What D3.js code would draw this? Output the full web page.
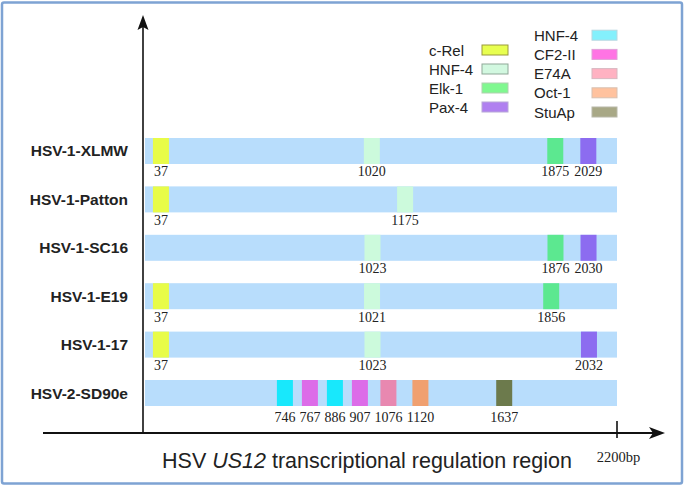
<!DOCTYPE html>
<html>
<head>
<meta charset="utf-8">
<script src="https://cdn.jsdelivr.net/npm/d3@7/dist/d3.min.js"></script>
<style>
  html, body { margin: 0; padding: 0; background: #fff; }
  svg { display: block; }
</style>
</head>
<body>
<svg id="chart" width="685" height="486"></svg>
<script>
// ---------------- data ----------------
const strains = ["HSV-1-XLMW", "HSV-1-Patton", "HSV-1-SC16", "HSV-1-E19", "HSV-1-17", "HSV-2-SD90e"];

const factorKeys   = ["cRel", "HNF4a", "Elk1", "Pax4", "HNF4b", "CF2II", "E74A", "Oct1", "StuAp"];
const factorLabels = ["c-Rel", "HNF-4", "Elk-1", "Pax-4", "HNF-4", "CF2-II", "E74A", "Oct-1", "StuAp"];

const xlmwSites    = [37, 1020, 1875, 2029];
const xlmwFactors  = ["cRel", "HNF4a", "Elk1", "Pax4"];
const pattonSites  = [37, 1175];
const pattonFactors = ["cRel", "HNF4a"];
const sc16Sites    = [1023, 1876, 2030];
const sc16Factors  = ["HNF4a", "Elk1", "Pax4"];
const e19Sites     = [37, 1021, 1856];
const e19Factors   = ["cRel", "HNF4a", "Elk1"];
const s17Sites     = [37, 1023, 2032];
const s17Factors   = ["cRel", "HNF4a", "Pax4"];
const sd90eSites   = [746, 767, 886, 907, 1076, 1120, 1637];
const sd90eFactors = ["HNF4b", "CF2II", "HNF4b", "CF2II", "E74A", "Oct1", "StuAp"];

const regionLength = 2200;
const axisLabel = "2200bp";

// ---------------- styles ----------------
const boxColor = {
  cRel: "#e8fc48", HNF4a: "#ccfadc", Elk1: "#5ce890", Pax4: "#8c6cf0",
  HNF4b: "#18e8fc", CF2II: "#dc6ce8", E74A: "#e888b0", Oct1: "#f0a070", StuAp: "#6c7a4c"
};
const legendColor = {
  cRel: "#e8ff50", HNF4a: "#d2f8e0", Elk1: "#80f890", Pax4: "#b080f0",
  HNF4b: "#84f0fc", CF2II: "#ff74e4", E74A: "#ffb2c2", Oct1: "#ffc29e", StuAp: "#a8a886"
};
const legendStroke = {
  cRel: "#9a9a3c", HNF4a: "#8fa898", Elk1: "#b0d0b0", Pax4: "#b8a8d8",
  HNF4b: "#b8d8e0", CF2II: "#e0a0d8", E74A: "#d8b8c0", Oct1: "#d8c0b0", StuAp: "#b8b8a8"
};

const sitesByStrain = [
  [xlmwSites, xlmwFactors], [pattonSites, pattonFactors], [sc16Sites, sc16Factors],
  [e19Sites, e19Factors], [s17Sites, s17Factors], [sd90eSites, sd90eFactors]
];

const svg = d3.select("#chart");

// frame
svg.append("rect").attr("x", 2).attr("y", 2.5).attr("width", 680).attr("height", 481)
  .attr("rx", 2).attr("fill", "#fff").attr("stroke", "#7ea3d3").attr("stroke-width", 2.5);

// scales
const x = d3.scaleLinear().domain([0, regionLength]).range([145, 617]);
const y = d3.scaleBand().domain(strains).range([138, 406]).paddingInner(0.463).paddingOuter(0);

const boxW = 16;
const numFontSize = 14;
const digitW = numFontSize * 0.5;
const labelW = v => String(v).length * digitW;

// collision-avoidance so neighbouring site boxes/labels don't overlap
function dodge(vals) {
  const items = vals.map((v, i) => ({ i, v, ideal: x(v), w: labelW(v) }))
    .sort((a, b) => a.ideal - b.ideal);
  const sep = (a, b) => Math.max(boxW + 4, (a.w + b.w) / 2 + 4);
  const layout = members => {
    const off = [0];
    for (let k = 1; k < members.length; k++) off.push(off[k - 1] + sep(members[k - 1], members[k]));
    const start = d3.mean(members, (d, k) => d.ideal - off[k]);
    return { members, off, start };
  };
  const clusters = [];
  items.forEach(it => {
    clusters.push(layout([it]));
    while (clusters.length > 1) {
      const c = clusters[clusters.length - 1], p = clusters[clusters.length - 2];
      const pLast = p.members[p.members.length - 1];
      if (p.start + p.off[p.off.length - 1] + sep(pLast, c.members[0]) > c.start) {
        clusters.splice(clusters.length - 2, 2, layout(p.members.concat(c.members)));
      } else break;
    }
  });
  const out = new Array(vals.length);
  clusters.forEach(c => c.members.forEach((d, k) => { out[d.i] = c.start + c.off[k]; }));
  return out;
}

// background bars
svg.append("g").selectAll("rect").data(strains).join("rect")
  .attr("x", x(0)).attr("width", x(regionLength) - x(0))
  .attr("y", d => y(d)).attr("height", y.bandwidth())
  .attr("fill", "#b8ddfc");

// row labels
svg.append("g").selectAll("text").data(strains).join("text")
  .attr("x", 128).attr("y", d => y(d) + y.bandwidth() / 2 + 5.5)
  .attr("text-anchor", "end")
  .attr("font-family", "Liberation Sans, Arial, sans-serif")
  .attr("font-weight", "bold").attr("font-size", 15.5)
  .attr("fill", "#222")
  .text(d => d);

// site boxes + labels
strains.forEach((s, si) => {
  const [vals, facs] = sitesByStrain[si];
  const pos = dodge(vals);
  const data = vals.map((v, i) => ({ v, f: facs[i], px: pos[i] }));
  const g = svg.append("g");
  g.selectAll("rect").data(data).join("rect")
    .attr("x", d => d.px).attr("width", boxW)
    .attr("y", y(s)).attr("height", y.bandwidth())
    .attr("fill", d => boxColor[d.f]);
  g.selectAll("text").data(data).join("text")
    .attr("x", d => d.px + boxW / 2)
    .attr("y", y(s) + y.bandwidth() + (si === strains.length - 1 ? 15.5 : 12.5))
    .attr("text-anchor", "middle")
    .attr("font-family", "Liberation Serif, Times New Roman, serif")
    .attr("font-size", numFontSize).attr("fill", "#222")
    .text(d => d.v);
});

// y axis with arrow
svg.append("line").attr("x1", 143).attr("x2", 143).attr("y1", 433).attr("y2", 26)
  .attr("stroke", "#111").attr("stroke-width", 1.6);
svg.append("path").attr("d", "M143,15 L137.5,30 L143,27 L148.5,30 Z").attr("fill", "#111");

// x axis with arrow
const axisY = 433;
svg.append("line").attr("x1", 43).attr("x2", 655).attr("y1", axisY).attr("y2", axisY)
  .attr("stroke", "#111").attr("stroke-width", 2);
svg.append("path").attr("d", `M665,${axisY} L649,${axisY - 6} L653,${axisY} L649,${axisY + 6} Z`).attr("fill", "#111");

// end tick
svg.append("line").attr("x1", x(regionLength)).attr("x2", x(regionLength))
  .attr("y1", 421).attr("y2", 438).attr("stroke", "#111").attr("stroke-width", 1.6);
svg.append("text").attr("x", x(regionLength) + 1.5).attr("y", 461.5)
  .attr("text-anchor", "middle")
  .attr("font-family", "Liberation Serif, Times New Roman, serif")
  .attr("font-size", 14.5).attr("fill", "#222").text(axisLabel);

// title
const title = svg.append("text").attr("x", 367).attr("y", 468)
  .attr("text-anchor", "middle")
  .attr("font-family", "Liberation Sans, Arial, sans-serif")
  .attr("font-size", 21.5).attr("fill", "#222");
title.append("tspan").text("HSV ");
title.append("tspan").attr("font-style", "italic").text("US12");
title.append("tspan").text(" transcriptional regulation region");

// legend
const leftKeys = factorKeys.slice(0, 4), rightKeys = factorKeys.slice(4);
const legFont = { family: "Liberation Sans, Arial, sans-serif", size: 15 };

function legendColumn(keys, offset, lx, sx, sw, y0, step) {
  const g = svg.append("g");
  keys.forEach((k, i) => {
    const by = y0 + i * step;
    g.append("text").attr("x", lx).attr("y", by)
      .attr("font-family", legFont.family).attr("font-size", legFont.size)
      .attr("fill", "#222").text(factorLabels[offset + i]);
    g.append("rect").attr("x", sx).attr("y", by - 10.5).attr("width", sw).attr("height", 10)
      .attr("fill", legendColor[k]).attr("stroke", legendStroke[k]).attr("stroke-width", 1);
  });
}
legendColumn(leftKeys, 0, 429, 482, 26, 55.5, 19);
legendColumn(rightKeys, 4, 534, 592, 25, 40.7, 19.2);
</script>
</body>
</html>
